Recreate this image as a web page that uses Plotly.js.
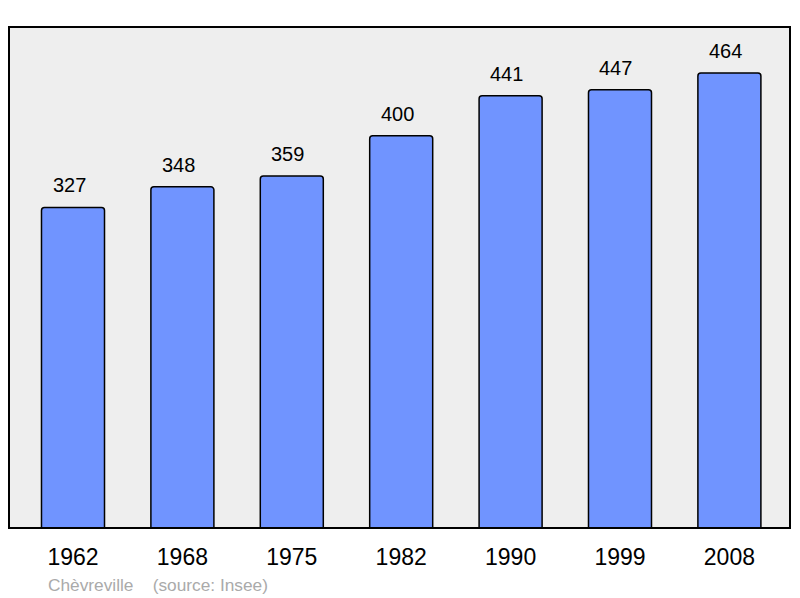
<!DOCTYPE html>
<html>
<head>
<meta charset="utf-8">
<script src="https://cdn.plot.ly/plotly-3.0.1.min.js"></script>
<style>
  body { margin: 0; background: #fff; }
  #chart { width: 800px; height: 598px; }
</style>
</head>
<body>
<div id="chart"></div>
<script>
// population data
const years = ['1962', '1968', '1975', '1982', '1990', '1999', '2008'];
const population = [327, 348, 359, 400, 441, 447, 464];

const trace = {
  x: years,
  y: population,
  type: 'bar',
  width: 0.576,
  marker: {
    color: '#7094ff',
    line: { color: '#000', width: 1.5 },
    cornerradius: 3
  },
  hoverinfo: 'none'
};

// value labels above the bars (x given as category index)
const labels = years.map((yr, i) => ({
  x: i,
  y: population[i],
  text: String(population[i]),
  showarrow: false,
  yanchor: 'bottom',
  xshift: -4,
  yshift: 9,
  font: { size: 20, color: '#000', family: 'Liberation Sans, Arial, sans-serif' }
}));

labels.push({
  xref: 'paper', yref: 'paper',
  x: 0.048, y: -0.113,
  xanchor: 'left', yanchor: 'middle',
  text: 'Chèvreville    (source: Insee)',
  showarrow: false,
  font: { size: 17.3, color: '#aaaaaa', family: 'Liberation Sans, Arial, sans-serif' }
});

const layout = {
  width: 800,
  height: 598,
  margin: { l: 9, r: 10, t: 27, b: 70 },
  paper_bgcolor: '#fff',
  plot_bgcolor: '#eeeeee',
  showlegend: false,
  xaxis: {
    type: 'category',
    range: [-0.585, 6.554],
    showgrid: false,
    zeroline: false,
    ticks: '',
    ticklabelstandoff: 13,
    tickfont: { size: 23, color: '#000', family: 'Liberation Sans, Arial, sans-serif' }
  },
  yaxis: {
    range: [0, 511],
    showgrid: false,
    zeroline: false,
    showticklabels: false,
    ticks: ''
  },
  shapes: [{
    type: 'rect', xref: 'paper', yref: 'paper',
    x0: 0, x1: 1, y0: 0, y1: 1,
    line: { color: '#000', width: 2 }
  }],
  annotations: labels
};

Plotly.newPlot('chart', [trace], layout, { displayModeBar: false, staticPlot: true });
</script>
</body>
</html>
